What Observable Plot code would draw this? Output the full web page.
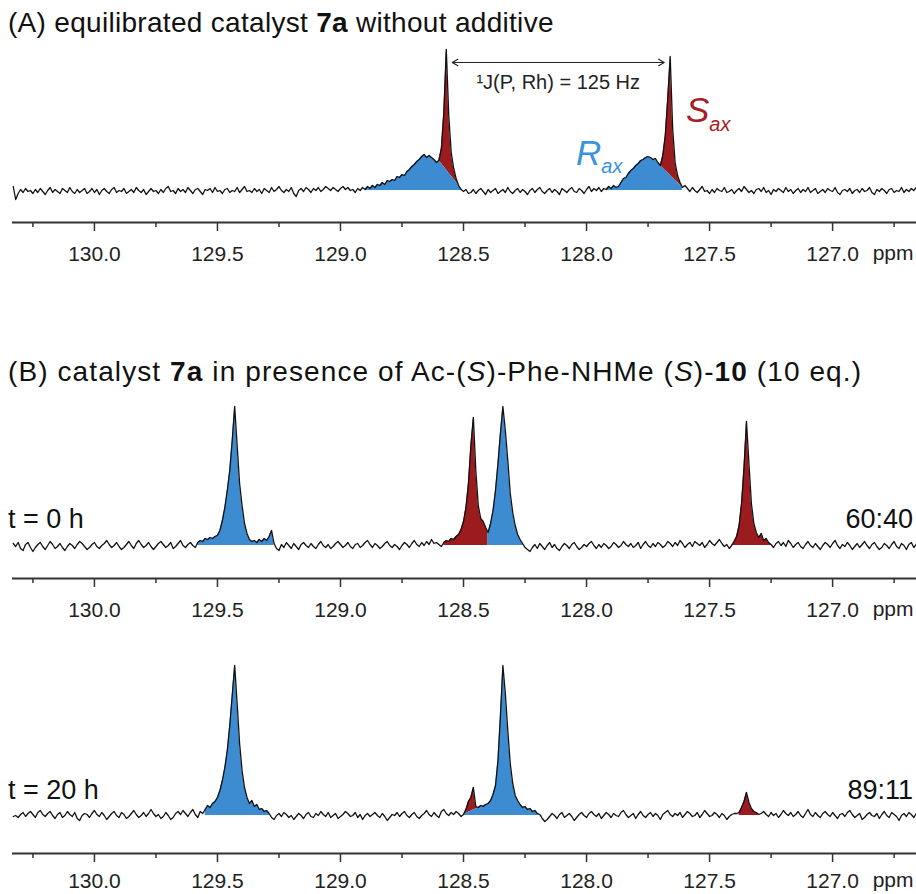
<!DOCTYPE html>
<html><head><meta charset="utf-8">
<script src="https://cdn.jsdelivr.net/npm/d3@7"></script>
<script src="https://cdn.jsdelivr.net/npm/@observablehq/plot@0.6"></script>
<style>
body{margin:0;background:#fff;}
#root{position:relative;width:916px;height:894px;overflow:hidden;font-family:"Liberation Sans",Arial,sans-serif;color:#111;}
.abs{position:absolute;white-space:nowrap;}
.panel{position:absolute;left:0;}
.title{font-size:28px;line-height:32px;}
.tlab{font-size:27px;line-height:30px;}
.iso{font-style:italic;font-size:35px;line-height:40px;}
.iso span{font-size:20px;position:relative;}
</style></head>
<body><div id="root">
<div class="abs title" style="left:8px;top:7px;letter-spacing:0.3px">(A) equilibrated catalyst <b>7a</b> without additive</div>
<div class="abs title" style="left:8px;top:356px;letter-spacing:1.1px">(B) catalyst <b>7a</b> in presence of Ac-(<i>S</i>)-Phe-NHMe (<i>S</i>)-<b>10</b> (10 eq.)</div>
<div id="pA" class="panel" style="top:0px"></div>
<div id="pB0" class="panel" style="top:390px"></div>
<div id="pB20" class="panel" style="top:640px"></div>
<div class="abs iso" style="left:686px;top:90px;color:#a51f24">S<span style="top:9px">ax</span></div>
<div class="abs iso" style="left:576px;top:133px;color:#3b93db">R<span style="top:8px">ax</span></div>
<div class="abs tlab" style="left:8px;top:504px">t = 0 h</div>
<div class="abs tlab" style="right:3px;top:504px">60:40</div>
<div class="abs tlab" style="left:8px;top:775px">t = 20 h</div>
<div class="abs tlab" style="right:3px;top:775px">89:11</div>
</div>
<script>
// chemical shift sampling of the spectra (ppm)
const ppmStart = 130.33;
const ppmStep = 0.01;
const ppmDomain = [130.333, 126.659];
const majorTicks = [130.0, 129.5, 129.0, 128.5, 128.0, 127.5, 127.0];
const minorTicks = [130.25, 129.75, 129.25, 128.75, 128.25, 127.75, 127.25, 126.75];
const isomers = ["R", "S"];
const isomerColors = ["#3d8bd1", "#9b1b1f"];

// (A) equilibrated catalyst 7a, intensity (arb. units)
const traceA = [
4,-9,-3,1,-2,2,-1,0,-3,1,
-2,2,-1,-4,0,3,-2,1,-1,-3,
2,0,-2,3,-1,-3,1,-2,0,2,
-3,-1,2,-2,1,-4,0,2,-1,-3,
1,3,-2,0,-1,2,-3,-1,1,-2,
3,0,-2,1,-4,-1,2,-1,0,-3,
1,-2,2,4,-1,0,-3,2,-1,1,
-2,3,0,-3,1,2,-1,-4,1,0,
2,-2,3,-1,0,-3,1,2,-2,0,
-1,3,-2,1,4,-1,0,-2,2,-1,
1,-3,2,0,-2,3,-1,1,4,0,
-2,1,-1,3,-3,-6,0,2,-1,3,
1,-2,2,0,3,-1,1,4,2,0,
3,1,-1,2,4,1,3,0,
1,-2,2,0,3,1,4,2,5,3,
6,5,8,6,10,9,11,10,14,13,
16,15,19,21,24,26,29,31,34,36,
33,35,33,31,28,30,42,78,141,75,
38,22,12,5,1,-1,1,-3,
-2,1,-3,0,2,-1,-4,1,-2,0,
2,-3,-1,1,-2,3,-1,-3,0,2,
-2,1,-1,-4,0,2,-2,1,3,-1,
-3,0,2,-2,1,-1,-4,2,0,-2,
1,3,-1,-2,2,0,-3,1,4,-1,
2,0,3,-1,2,
1,4,2,5,3,4,8,12,13,17,
20,22,25,27,30,31,33,34,33,31,
32,28,25,35,55,92,134,62,28,15,
8,3,5,
2,-1,3,0,-2,1,4,-1,0,-3,
1,-2,2,0,-1,3,-2,-1,1,-3,
0,2,-1,4,1,-2,0,-3,1,2,
-1,3,-2,0,-4,1,-1,2,0,-2,
3,-1,1,-3,0,2,-2,1,-1,3,
-2,0,2,-3,-1,1,-2,2,0,-1,
3,-2,-4,0,1,-1,2,-3,0,1,
-2,2,-1,0,3,-2,-4,1,-1,2,
0,-3,1,2,-2,0,-1,3,-2,1,
-1,2,0,3];

// (B) t = 0 h
const traceB0 = [
2,-1,3,-3,-5,1,3,-2,-6,-2,
1,3,-1,-4,0,4,1,-3,-1,2,
-2,-5,-1,2,0,-3,1,4,2,-1,
-4,-2,1,3,-1,-3,0,2,5,1,
-2,0,3,-1,-4,-2,1,4,0,-3,
2,5,1,-2,0,3,-1,-4,-1,2,
4,1,-2,0,3,-3,-1,2,5,0,
-2,1,3,
0,-2,3,5,4,7,6,8,7,9,
10,15,25,38,55,75,105,139,100,62,
40,22,12,6,4,5,3,6,4,7,
5,9,15,2,-3,
-5,1,-2,3,0,-3,2,-1,-4,1,
3,0,-2,2,-1,-3,1,4,0,-2,
1,-3,-1,2,4,1,-2,0,3,-1,
-3,1,2,-2,0,3,5,1,-2,2,
0,-3,-1,2,4,0,-2,1,-1,-4,
0,3,1,-2,2,5,1,-1,3,0,
4,1,6,2,3,
1,-1,3,5,4,7,6,9,11,16,
24,38,62,100,128,75,40,27,24,18,
13,22,35,55,82,112,139,115,85,52,
33,20,11,6,2,-2,-4,
-6,-2,1,-3,2,-1,-4,0,3,-2,
1,-3,-5,-1,2,0,-3,1,3,-1,
-4,-2,1,-1,2,4,0,-3,1,-2,
2,0,-3,-1,3,1,-2,0,4,1,
-1,2,-2,0,3,-3,1,4,0,-2,
2,-1,3,1,-2,0,4,2,-1,3,
0,5,2,-2,1,3,-1,4,2,0,
3,-2,1,5,2,0,3,6,2,-1,
1,
-3,0,4,9,20,42,78,124,82,42,
22,13,8,12,5,7,3,1,-2,
2,4,0,3,-1,5,2,-2,1,3,
-1,-3,1,4,0,-2,2,-1,-4,0,
3,1,-2,2,5,0,-3,1,-1,3,
0,-4,-1,2,-2,1,4,0,-3,1,
3,-1,-4,-2,2,0,-3,1,4,-1,
-3,2,0,-4,1,3,-2,1];

// (B) t = 20 h
const traceB20 = [
-1,0,-2,1,3,-1,2,4,1,-2,
3,5,1,-1,2,4,0,-3,1,3,
-2,0,4,1,-1,3,-3,-5,0,2,
1,-2,2,5,1,-1,3,0,-4,-1,
2,4,0,-2,3,1,-3,-1,2,5,
1,-2,0,3,-1,2,6,2,-1,1,
-3,-1,3,0,-4,-2,2,4,1,5,
2,-1,3,6,1,-2,4,
2,6,10,8,12,14,18,25,35,48,
65,90,120,150,112,72,45,28,18,12,
15,9,11,6,7,4,5,2,-2,
-4,0,2,-1,3,1,-2,0,-4,-1,
2,0,-3,1,3,-1,-2,2,0,4,
1,-1,3,-2,0,2,-3,-1,1,4,
2,-1,0,3,-2,1,-4,0,2,-1,
1,3,0,-2,2,-1,-5,-2,1,0,
3,-1,2,4,0,-2,1,3,-1,-3,
0,2,5,1,-1,3,0,-2,4,6,
2,0,3,1,4,
2,-1,1,6,14,18,28,9,8,10,
9,11,12,15,21,30,55,100,150,122,
85,52,32,20,15,11,8,9,6,7,
4,5,2,1,-3,-6,
-4,-1,2,0,-3,1,3,-2,0,2,
-1,-5,-2,1,3,0,-2,2,4,1,
-1,2,-3,0,3,1,-2,2,0,-1,
3,5,1,-2,0,2,-3,1,4,0,
-2,1,3,-1,2,0,-4,1,3,5,
1,-1,2,0,3,-2,1,4,2,-1,
0,3,-2,1,5,2,-1,0,3,1,
-2,2,0,-4,-1,1,2,
2,3,8,14,23,13,7,4,3,1,2,
4,1,-1,3,0,2,-2,1,5,2,
0,3,-1,1,4,0,-2,2,6,1,
-1,3,0,-2,2,4,1,-1,3,0,
-3,1,2,-1,3,5,1,-2,0,2,
-4,-2,1,3,0,-1,2,-3,1,4,
0,-2,3,1,-1,-5,0,2,-1,3,
1,-2,2];

// integrated regions: isomer, ppm range, optional divider between two trace points
const regionsA = [
  {id: "A1S", isomer: "S", from: 128.60, to: 128.50, cut: [128.60, 128.50], part: "over"},
  {id: "A1R", isomer: "R", from: 128.90, to: 128.50, cut: [128.60, 128.50], part: "under"},
  {id: "A2S", isomer: "S", from: 127.70, to: 127.61, cut: [127.70, 127.61], part: "over"},
  {id: "A2R", isomer: "R", from: 127.92, to: 127.61, cut: [127.70, 127.61], part: "under"}
];
const regionsB0 = [
  {id: "B0a", isomer: "R", from: 129.58, to: 129.27, part: "under"},
  {id: "B0b", isomer: "S", from: 128.58, to: 128.40, part: "under"},
  {id: "B0c", isomer: "R", from: 128.40, to: 128.25, part: "under"},
  {id: "B0d", isomer: "S", from: 127.41, to: 127.25, part: "under"}
];
const regionsB20 = [
  {id: "B20a", isomer: "R", from: 129.55, to: 129.28, part: "under"},
  {id: "B20b", isomer: "S", from: 128.50, to: 128.40, cut: [128.50, 128.40], part: "over"},
  {id: "B20c", isomer: "R", from: 128.50, to: 128.18, cut: [128.50, 128.40], part: "under"},
  {id: "B20d", isomer: "S", from: 127.38, to: 127.30, part: "under"}
];
const jCoupling = {from: 128.57, to: 127.66, level: 128, label: "\u00B9J(P, Rh) = 125 Hz"};

function toPoints(values) {
  if (values.length !== 368) throw new Error("trace length " + values.length);
  return values.map((v, i) => ({ppm: +(ppmStart - i * ppmStep).toFixed(2), v}));
}
const eps = 1e-6;
function valueAt(pts, p) { return pts.find(d => Math.abs(d.ppm - p) < eps).v; }
function regionPoints(pts, r) {
  let line = null;
  if (r.cut) {
    const [a, b] = r.cut, va = valueAt(pts, a), vb = valueAt(pts, b);
    line = p => va + (vb - va) * (a - p) / (a - b);
  }
  return pts.filter(d => d.ppm <= r.from + eps && d.ppm >= r.to - eps).map(d => {
    const inCut = r.cut && d.ppm <= r.cut[0] + eps && d.ppm >= r.cut[1] - eps;
    if (r.part === "over") return {ppm: d.ppm, y1: line(d.ppm), y2: d.v, id: r.id, isomer: r.isomer};
    return {ppm: d.ppm, y1: 0, y2: inCut ? line(d.ppm) : d.v, id: r.id, isomer: r.isomer};
  });
}

const font = '"Liberation Sans", Arial, sans-serif';
function panel(el, values, regions, height, yDomain, tickPadding, extras = []) {
  const pts = toPoints(values);
  const fills = regions.flatMap(r => regionPoints(pts, r));
  const chart = Plot.plot({
    width: 916, height, marginLeft: 12, marginRight: 0, marginTop: 0, marginBottom: 58,
    x: {domain: ppmDomain, axis: null},
    y: {domain: yDomain, axis: null},
    color: {domain: isomers, range: isomerColors},
    style: {fontFamily: font, fontSize: "21px", color: "#222", background: "transparent", overflow: "visible"},
    marks: [
      Plot.areaY(fills, {x: "ppm", y1: "y1", y2: "y2", z: "id", fill: "isomer", curve: "linear"}),
      Plot.line(pts, {x: "ppm", y: "v", stroke: "#111", strokeWidth: 1.3}),
      Plot.ruleY([yDomain[0]], {stroke: "#333", strokeWidth: 2}),
      Plot.axisX(minorTicks, {anchor: "bottom", tickSize: 5, tickFormat: () => "", label: null, stroke: "#333", strokeWidth: 1.5}),
      Plot.axisX(majorTicks, {anchor: "bottom", tickSize: 9, tickPadding, tickFormat: d => d.toFixed(1), label: null, stroke: "#333", strokeWidth: 1.5, fontSize: 21}),
      Plot.text(["ppm"], {frameAnchor: "bottom-right", dy: 16 + tickPadding, dx: -3, text: d => d, textAnchor: "end", lineAnchor: "middle", fontSize: 21, fill: "#222"}),
      ...extras
    ]
  });
  document.getElementById(el).appendChild(chart);
}

const mid = d => (d.from + d.to) / 2;
panel("pA", traceA, regionsA, 280, [-32, 190], 15, [
  Plot.arrow([jCoupling], {x1: mid, y1: "level", x2: "from", y2: "level", insetEnd: 6, headLength: 8, bend: 0, stroke: "#222", strokeWidth: 1.2}),
  Plot.arrow([jCoupling], {x1: mid, y1: "level", x2: "to", y2: "level", insetEnd: 6, headLength: 8, bend: 0, stroke: "#222", strokeWidth: 1.2}),
  Plot.text([jCoupling], {x: mid, y: "level", dy: 20, text: "label", fontSize: 20, lineAnchor: "middle", fill: "#222"})
]);
panel("pB0", traceB0, regionsB0, 246, [-33, 155], 15);
panel("pB20", traceB20, regionsB20, 271, [-38, 175], 11);
</script>
</body></html>
